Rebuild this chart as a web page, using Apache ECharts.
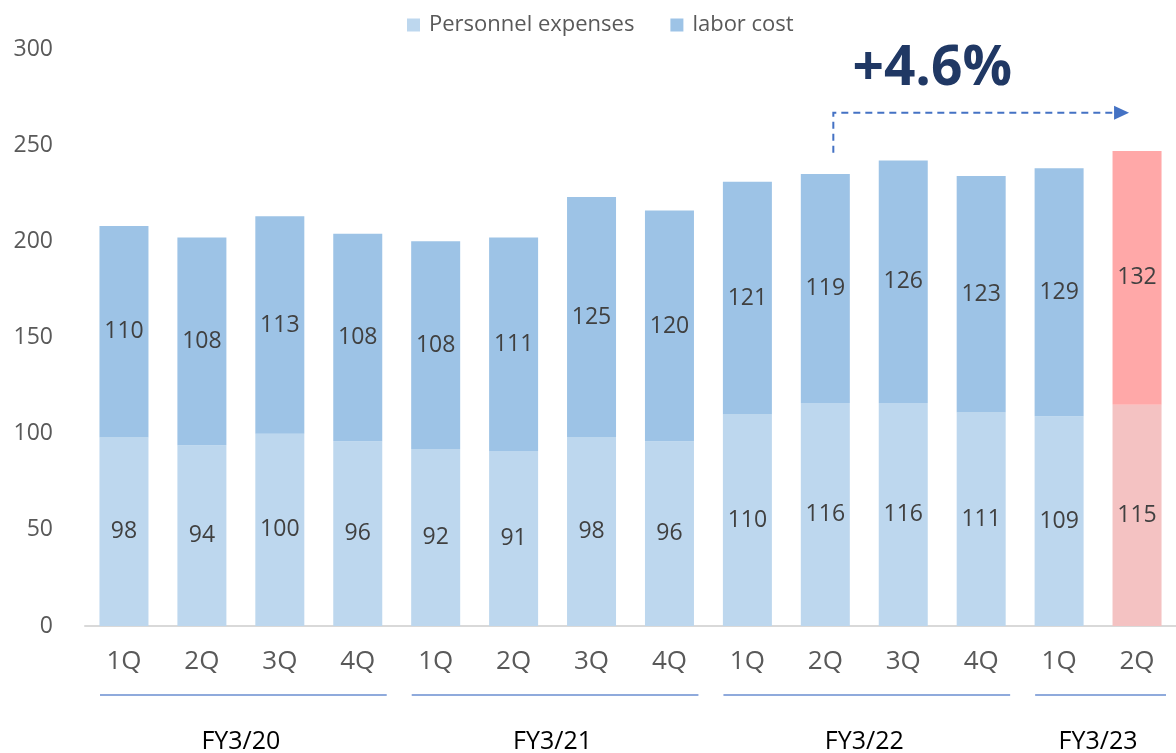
<!DOCTYPE html>
<html>
<head>
<meta charset="utf-8">
<title>Personnel expenses / labor cost</title>
<script src="https://cdn.jsdelivr.net/npm/echarts@6/dist/echarts.min.js"></script>
<style>
html, body { margin: 0; padding: 0; background: #fff; }
#chart1 { width: 1176px; height: 753px; }
</style>
</head>
<body>
<div id="chart1"></div>
<script>
// data
var quarters = ['1Q', '2Q', '3Q', '4Q', '1Q', '2Q', '3Q', '4Q', '1Q', '2Q', '3Q', '4Q', '1Q', '2Q'];
var personnel = [98, 94, 100, 96, 92, 91, 98, 96, 110, 116, 116, 111, 109, 115];
var labor = [110, 108, 113, 108, 108, 111, 125, 120, 121, 119, 126, 123, 129, 132];
var fiscalYears = ['FY3/20', 'FY3/21', 'FY3/22', 'FY3/23'];
var fyFirst = [0, 4, 8, 12];
var fyLast = [3, 7, 11, 13];
var growthText = '+4.6%';
var highlightIndex = 13;

var FONT = "'Open Sans', 'Noto Sans', sans-serif";
var blueLight = '#BDD7EE', blueDark = '#9DC3E6';
var pinkLight = '#F4C2C2', pinkDark = '#FFA8A8';

function colored(values, normal, hi) {
    return values.map(function (v, i) {
        return i === highlightIndex ? { value: v, itemStyle: { color: hi } } : v;
    });
}

var labelStyle = {
    show: true,
    position: 'inside',
    color: '#404040',
    fontSize: 23,
    fontFamily: FONT
};

var chart = echarts.init(document.getElementById('chart1'));
var option = {
    animation: false,
    textStyle: { fontFamily: FONT },
    legend: {
        left: 402,
        top: 9,
        itemWidth: 13,
        itemHeight: 13,
        itemGap: 36,
        icon: 'rect',
        textStyle: { color: '#595959', fontSize: 22, fontFamily: FONT, padding: [0, 0, 0, 4] },
        data: ['Personnel expenses', 'labor cost']
    },
    grid: { left: 85, top: 49, bottom: 127, width: 1095 },
    xAxis: {
        type: 'category',
        data: quarters,
        axisLine: { lineStyle: { color: '#D9D9D9', width: 2 } },
        axisTick: { length: 9, lineStyle: { color: '#D9D9D9', width: 2 } },
        axisLabel: { color: '#595959', fontSize: 26, margin: 23, fontFamily: FONT }
    },
    yAxis: {
        type: 'value',
        min: 0,
        max: 300,
        interval: 50,
        axisLine: { show: false },
        axisTick: { show: false },
        splitLine: { show: false },
        axisLabel: { color: '#595959', fontSize: 23, margin: 32, fontFamily: FONT }
    },
    series: [{
        name: 'Personnel expenses',
        type: 'bar',
        stack: 'total',
        barWidth: 49,
        itemStyle: { color: blueLight },
        label: labelStyle,
        data: colored(personnel, blueLight, pinkLight)
    }, {
        name: 'labor cost',
        type: 'bar',
        stack: 'total',
        barWidth: 49,
        itemStyle: { color: blueDark },
        label: labelStyle,
        data: colored(labor, blueDark, pinkDark)
    }]
};
chart.setOption(option);

// annotations placed through the chart's own scales
function px(i, v) {
    return chart.convertToPixel({ gridIndex: 0 }, [i, v]);
}
var catW = px(1, 0)[0] - px(0, 0)[0];
var axisY = px(0, 0)[1];
var elements = [];

fiscalYears.forEach(function (name, k) {
    var left = px(fyFirst[k], 0)[0] - catW / 2;
    var right = px(fyLast[k], 0)[0] + catW / 2;
    elements.push({
        type: 'line',
        shape: { x1: left + 15, y1: axisY + 69, x2: right - 10, y2: axisY + 69 },
        style: { stroke: '#8FAADC', lineWidth: 2 }
    });
    elements.push({
        type: 'text',
        x: (left + right) / 2,
        y: axisY + 116,
        style: {
            text: name, fill: '#000', fontSize: 25, fontFamily: FONT,
            align: 'center', verticalAlign: 'middle'
        }
    });
});

var start = px(9, 246);
var level = px(9, 266.8)[1];
var ax = start[0] + 8;
var tipX = px(13, 0)[0] - 8;
elements.push({
    type: 'polyline',
    shape: { points: [[ax, start[1]], [ax, level], [tipX - 14, level]] },
    style: { stroke: '#4472C4', lineWidth: 2, lineDash: [7, 5], fill: null }
});
elements.push({
    type: 'polygon',
    shape: { points: [[tipX - 15, level - 7], [tipX, level], [tipX - 15, level + 7]] },
    style: { fill: '#4472C4' }
});
var tp = px(10, 289.6);
elements.push({
    type: 'text',
    x: tp[0] + 29,
    y: tp[1],
    style: {
        text: growthText, fill: '#203864', fontSize: 55, fontWeight: 'bold', fontFamily: FONT,
        align: 'center', verticalAlign: 'middle'
    }
});

chart.setOption({ graphic: { elements: elements } });
</script>
</body>
</html>
